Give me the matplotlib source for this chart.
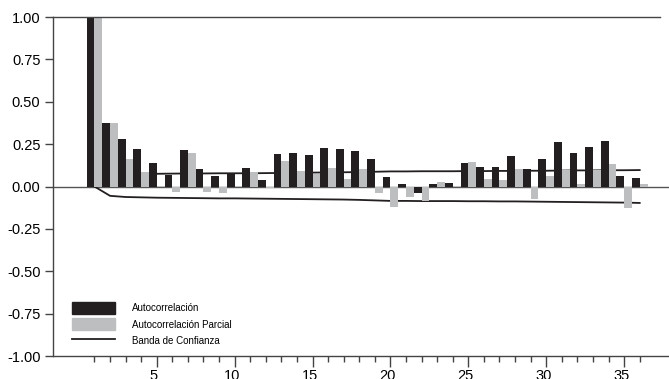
import numpy as np
import matplotlib
matplotlib.use("Agg")
import matplotlib.pyplot as plt
import matplotlib.transforms as mtransforms
from matplotlib.patches import Patch
from matplotlib.lines import Line2D

plt.rcParams["font.family"] = ["Liberation Sans", "DejaVu Sans"]

lags = list(range(1, 37))

# autocorrelation (black bars)
acf = [1.00, 0.375, 0.28, 0.221, 0.139, 0.07, 0.215, 0.103, 0.062, 0.074,
       0.109, 0.038, 0.192, 0.198, 0.186, 0.227, 0.221, 0.209, 0.162, 0.056,
       0.015, -0.038, 0.015, 0.021, 0.139, 0.115, 0.115, 0.180, 0.103, 0.162,
       0.262, 0.198, 0.233, 0.268, 0.062, 0.050]

# partial autocorrelation (grey bars)
pacf = [1.00, 0.375, 0.162, 0.086, 0.004, -0.03, 0.198, -0.03, -0.036, 0.005,
        0.086, -0.011, 0.150, 0.091, 0.074, 0.109, 0.044, 0.103, -0.038, -0.121,
        -0.062, -0.086, 0.027, 0.003, 0.145, 0.044, 0.038, 0.103, -0.072, 0.062,
        0.097, 0.015, 0.097, 0.133, -0.125, 0.015]

# confidence band
band_upper = [0.0, 0.060, 0.068, 0.072, 0.075, 0.076, 0.077, 0.077, 0.078, 0.078,
              0.078, 0.079, 0.080, 0.081, 0.082, 0.083, 0.084, 0.085, 0.087, 0.089,
              0.089, 0.090, 0.090, 0.090, 0.091, 0.091, 0.092, 0.092, 0.093, 0.093,
              0.094, 0.095, 0.095, 0.096, 0.096, 0.097]
band_lower = [0.0, -0.055, -0.062, -0.064, -0.066, -0.067, -0.068, -0.069, -0.070, -0.070,
              -0.071, -0.072, -0.073, -0.074, -0.075, -0.076, -0.077, -0.079, -0.082, -0.085,
              -0.085, -0.086, -0.086, -0.086, -0.087, -0.087, -0.088, -0.088, -0.089, -0.090,
              -0.091, -0.092, -0.093, -0.094, -0.095, -0.097]

labels = ["Autocorrelación", "Autocorrelación Parcial", "Banda de Confianza"]
dark = "#231f20"
grey = "#bcbec0"

fig = plt.figure(figsize=(6.69, 3.79), dpi=100)
ax = fig.add_axes([53 / 669, 1 - 356 / 379, 616 / 669, 339 / 379])

x = np.array(lags)
ax.axhline(0, color="#555555", lw=1.0, zorder=1)
ax.plot(x, band_upper, color=dark, lw=1.3, zorder=2)
ax.plot(x, band_lower, color=dark, lw=1.3, zorder=2)
ax.bar(x - 0.25, acf, width=0.5, color=dark, zorder=3)
ax.bar(x + 0.25, pacf, width=0.5, color=grey, zorder=3)

ax.set_xlim(-1.66, 37.88)
ax.set_ylim(-1, 1)
ax.plot([-1.66, 37.3], [1, 1], color="#444444", lw=1.0, clip_on=False, zorder=4)

for s in ["top", "right"]:
    ax.spines[s].set_visible(False)
for s in ["left", "bottom"]:
    ax.spines[s].set_color("#444444")
    ax.spines[s].set_linewidth(1.0)

ax.set_yticks(np.arange(-1, 1.01, 0.25))
ax.set_yticklabels([f"{v:.2f}" for v in np.arange(-1, 1.01, 0.25)])
ax.set_xticks([5, 10, 15, 20, 25, 30, 35])
ax.set_xticks(lags, minor=True)
ax.tick_params(axis="y", direction="out", length=6, width=1, pad=3,
               labelsize=10.5, color="#444444")
ax.tick_params(axis="x", which="major", direction="out", length=8, width=1,
               pad=1.5, labelsize=10.5, color="#444444")
ax.tick_params(axis="x", which="minor", direction="out", length=4.5, width=1,
               color="#444444")

# x labels sit slightly left of their ticks in the original
shift = mtransforms.ScaledTranslation(-3 / 100, 0, fig.dpi_scale_trans)
for lbl in ax.get_xticklabels():
    lbl.set_transform(lbl.get_transform() + shift)

handles = [Patch(color=dark), Patch(color=grey), Line2D([], [], color=dark, lw=1.3)]
ax.legend(handles, labels, loc="lower left", bbox_to_anchor=(0.031, 0.028),
          frameon=False, fontsize=7, handlelength=4.4, handleheight=1.5,
          handletextpad=1.8, labelspacing=0.45, borderpad=0, borderaxespad=0)

fig.savefig("out.png", dpi=100)
